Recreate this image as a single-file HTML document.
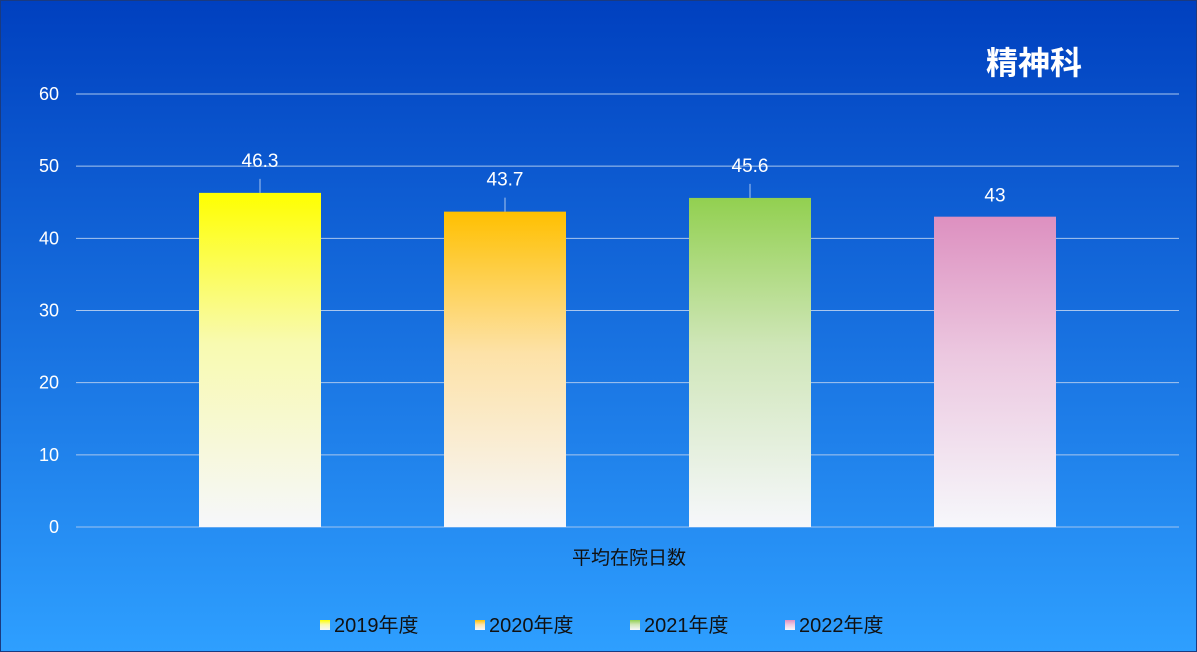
<!DOCTYPE html>
<html><head><meta charset="utf-8"><style>
body{margin:0;}
#c{width:1197px;height:652px;position:relative;overflow:hidden;background:linear-gradient(#0040bf,#2e9fff);box-sizing:border-box;border:1px solid #1a3a80;font-family:"Liberation Sans","Noto Sans CJK JP",sans-serif;}
</style></head><body>
<div id="c">
<svg width="1197" height="652" id="svg" style="position:absolute;left:0;top:0">
<defs>
<linearGradient id="g0" x1="0" y1="0" x2="0" y2="1"><stop offset="0" stop-color="#ffff00"/><stop offset="0.45" stop-color="#f8fab0"/><stop offset="1" stop-color="#f6f7fb"/></linearGradient>
<linearGradient id="g1" x1="0" y1="0" x2="0" y2="1"><stop offset="0" stop-color="#ffc000"/><stop offset="0.45" stop-color="#fde2a8"/><stop offset="1" stop-color="#f6f7fb"/></linearGradient>
<linearGradient id="g2" x1="0" y1="0" x2="0" y2="1"><stop offset="0" stop-color="#92d050"/><stop offset="0.45" stop-color="#cfe6b8"/><stop offset="1" stop-color="#f6f7fb"/></linearGradient>
<linearGradient id="g3" x1="0" y1="0" x2="0" y2="1"><stop offset="0" stop-color="#dd90c0"/><stop offset="0.45" stop-color="#ecc8e0"/><stop offset="1" stop-color="#f6f7fb"/></linearGradient>
</defs>
<text x="1033" y="73" text-anchor="middle" font-size="32" font-weight="bold" fill="#fff">精神科</text>
<text x="628" y="563" text-anchor="middle" font-size="19" fill="#111">平均在院日数</text>
</svg>
</div>
<script>
const categories=["2019年度","2020年度","2021年度","2022年度"];
const values=[46.3,43.7,45.6,43];
const labels=["46.3","43.7","45.6","43"];
const ticks=[0,10,20,30,40,50,60];
const NS="http://www.w3.org/2000/svg";
const svg=document.getElementById('svg');
const x0=75,x1=1178,y0=526,y60=93;
const bx0=136.5,bx1=1116.5;
const y=v=>y0-(v/60)*(y0-y60);
const band=(bx1-bx0)/categories.length;
function mk(t,a,p){const e=document.createElementNS(NS,t);for(const k in a)e.setAttribute(k,a[k]);(p||svg).appendChild(e);return e;}
ticks.forEach(t=>{
 const l=mk('line',{x1:x0,x2:x1,y1:y(t),y2:y(t),stroke:t===0?'#9ec4f0':'#a9c6ee','stroke-width':1});
 
 
 const tx=mk('text',{x:58,y:y(t)+6,'text-anchor':'end','font-size':18,fill:'#fff'});
 tx.textContent=t;
 
 
});
values.forEach((v,i)=>{
 const cx=bx0+band*(i+0.5);
 const r=mk('rect',{x:cx-61,y:y(v),width:122,height:y0-y(v),fill:'url(#g'+i+')'});
 
 
 const ty=y(v)-(i===3?22:33);
 if(i!==3){
  const ln=mk('line',{x1:cx,x2:cx,y1:ty+19,y2:y(v),stroke:'#a9c6ee','stroke-width':1});
  
  
 }
 const t=mk('text',{x:cx,y:ty+7,'text-anchor':'middle','font-size':19,fill:'#fff'});
 t.textContent=labels[i];
 
 
});
const lx=[319,474,629,784];
categories.forEach((c,i)=>{
 const s=mk('rect',{x:lx[i],y:619,width:10,height:10,fill:'url(#g'+i+')'});
 
 
 const t=mk('text',{x:lx[i]+14,y:631,'font-size':20,fill:'#111'});
 t.textContent=c;
 
 
});
</script>
</body></html>
